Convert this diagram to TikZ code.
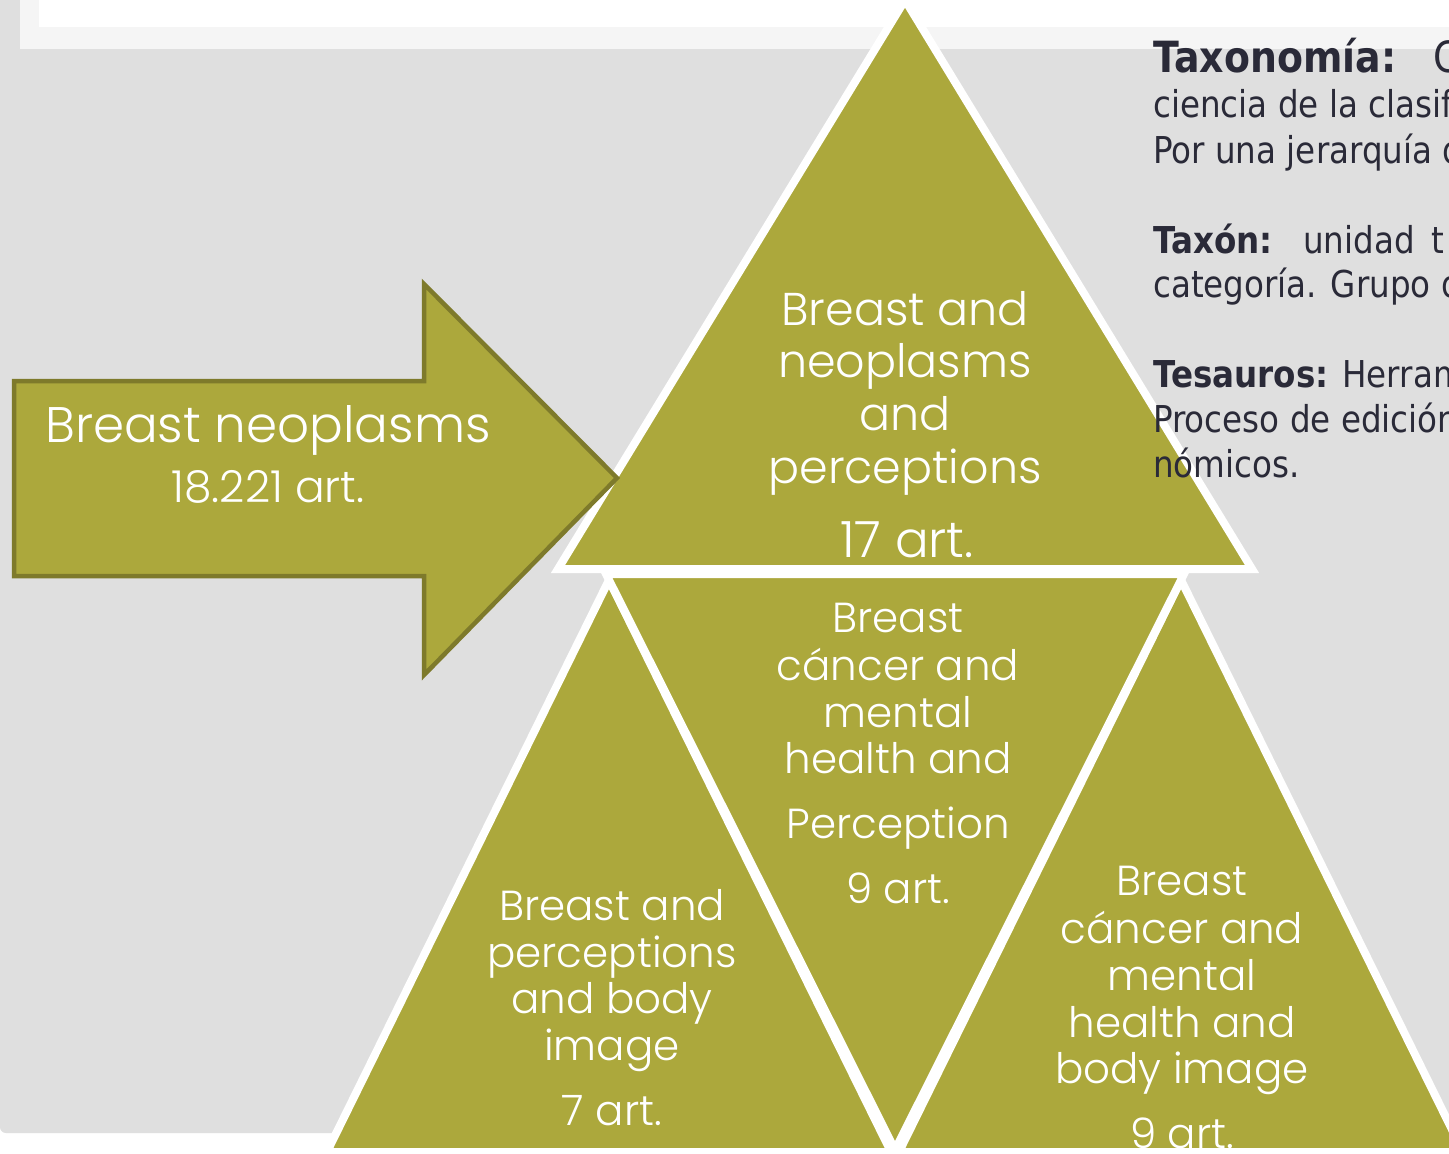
\documentclass[tikz,border=0pt]{standalone}
\usepackage{fontspec}
\newfontfamily\gothic{Poppins Light}
\newfontfamily\tahoma{DejaVu Sans}[FakeStretch=0.88]
\definecolor{olivefill}{HTML}{ACA83C}
\definecolor{arrowline}{HTML}{7E7A2B}
\definecolor{bggray}{HTML}{DFDFDF}
\definecolor{framegray}{HTML}{F5F5F5}
\definecolor{inktext}{HTML}{2A2A38}
\tikzset{
  tri/.style={fill=olivefill, draw=white, line width=8pt, line join=miter},
  bigarrow/.style={fill=olivefill, draw=arrowline, line width=4.5pt, line join=miter},
  wt/.style={text=white, anchor=base, inner sep=0pt, font=\gothic\fontsize{#1}{#1}\selectfont},
  rt/.style={text=inktext, anchor=base west, inner sep=0pt, font=\tahoma\fontsize{#1}{#1}\selectfont},
}
\begin{document}
\begin{tikzpicture}[x=1pt,y=-1pt]
\fill[white] (0,0) rectangle (1449,1154);
\useasboundingbox (0,0) rectangle (1449,1154);
% slide background
\fill[bggray, rounded corners=6pt] (0,-20) rectangle (1449,1133);
\fill[framegray] (20,-10) rectangle (1470,49);
\fill[white] (39,-10) rectangle (1470,27);

\begin{scope}
\clip (0,0) rectangle (1449,1147);
% pyramid of triangles
\draw[tri] (905,0) -- (1252,569) -- (558,569) -- cycle;
\draw[tri] (609,580) -- (895,1160) -- (323,1160) -- cycle;
\draw[tri] (1181,580) -- (1467,1160) -- (895,1160) -- cycle;
\draw[tri] (606,574) -- (1184,574) -- (895,1150) -- cycle;

% top triangle text
\node[wt=46] (top1) at (905,325) {Breast and};
\node[wt=46] (top2) at (905,377) {neoplasms};
\node[wt=46] (top3) at (905,430) {and};
\node[wt=46] (top4) at (905,483) {perceptions};
\node[wt=50] (top5) at (907,557) {17 art.};

% middle (inverted) triangle text
\node[wt=42] (mid1) at (898,632) {Breast};
\node[wt=42] (mid2) at (898,680) {cáncer and};
\node[wt=42] (mid3) at (898,727) {mental};
\node[wt=42] (mid4) at (898,773) {health and};
\node[wt=42] (mid5) at (898,838) {Perception};
\node[wt=42] (mid6) at (898,903) {9 art.};

% bottom-left triangle text
\node[wt=42] (bl1) at (612,920) {Breast and};
\node[wt=42] (bl2) at (612,967) {perceptions};
\node[wt=42] (bl3) at (612,1013) {and body};
\node[wt=42] (bl4) at (612,1060) {image};
\node[wt=42] (bl5) at (612,1125) {7 art.};

% bottom-right triangle text
\node[wt=42] (br1) at (1182,895) {Breast};
\node[wt=42] (br2) at (1182,943) {cáncer and};
\node[wt=42] (br3) at (1182,990) {mental};
\node[wt=42] (br4) at (1182,1037) {health and};
\node[wt=42] (br5) at (1182,1083) {body image};
\node[wt=42] (br6) at (1182,1148) {9 art.};
\end{scope}

% big arrow
\draw[bigarrow] (14,381) -- (424,381) -- (424,284) -- (617,478) -- (424,675) -- (424,576) -- (14,576) -- cycle;
\node[wt=50] (arr1) at (268,442) {Breast neoplasms};
\node[wt=44] (arr2) at (268,502) {18.221 art.};

% definitions text (cut by the right edge)
\node[rt=43] (d1a) at (1153,72) {\bfseries Taxonomía:};
\node[rt=43] (d1b) at (1433,72) {C};
\node[rt=37] (d2) at (1153,117) {ciencia de la clasif};
\node[rt=37] (d3) at (1153,163) {Por una jerarquía d};
\node[rt=37] (d4a) at (1153,253) {\bfseries Taxón:};
\node[rt=37] (d4b) at (1303,253) {unidad\hspace{6pt} t};
\node[rt=37] (d5) at (1153,297) {categoría. Grupo d};
\node[rt=37] (d6) at (1153,387) {\textbf{Tesauros:} Herram};
\node[rt=37] (d7) at (1153,432) {Proceso de edición};
\node[rt=37] (d8) at (1153,477) {nómicos.};
\end{tikzpicture}
\end{document}
